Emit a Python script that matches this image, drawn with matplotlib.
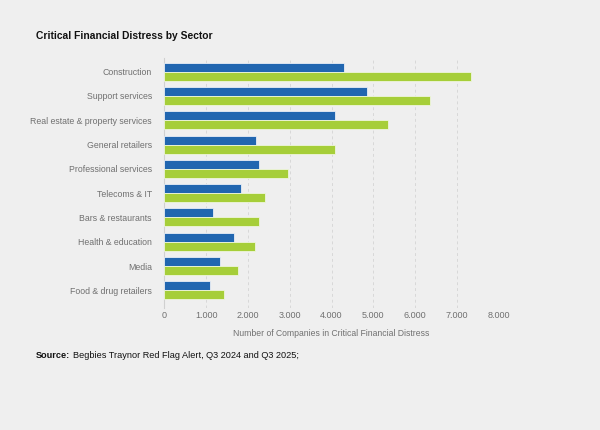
import matplotlib
matplotlib.use('Agg')
import matplotlib.pyplot as plt
import numpy as np

plt.rcParams['font.family'] = ['Liberation Sans', 'DejaVu Sans']

sectors = ['Construction', 'Support services', 'Real estate & property services',
           'General retailers', 'Professional services', 'Telecoms & IT',
           'Bars & restaurants', 'Health & education', 'Media',
           'Food & drug retailers']
q3_2024 = [4300, 4850, 4090, 2200, 2260, 1840, 1170, 1660, 1340, 1090]
q3_2025 = [7340, 6360, 5360, 4090, 2970, 2420, 2270, 2170, 1760, 1430]
xticks = [0, 1000, 2000, 3000, 4000, 5000, 6000, 7000, 8000]
xtick_labels = ['0', '1.000', '2.000', '3.000', '4.000', '5.000', '6.000', '7.000', '8.000']

BG    = '#efefef'
BLUE  = '#2166b0'
GREEN = '#a6ce39'
GREY  = '#707070'

fig = plt.figure(figsize=(6, 4.3), dpi=100, facecolor=BG)
ax = fig.add_axes([0.274, 0.284, 0.557, 0.581], facecolor=BG)

y = np.arange(len(sectors))
h = 0.37
ax.barh(y - h / 2, q3_2024, height=h, color=BLUE, edgecolor='#e8eef6', linewidth=0.6, zorder=3)
ax.barh(y + h / 2, q3_2025, height=h, color=GREEN, edgecolor='#eef5dc', linewidth=0.6, zorder=3)

ax.set_ylim(len(sectors) - 1 + 0.72, -0.56)
ax.set_xlim(0, 8000)
ax.set_yticks(y)
ax.set_yticklabels(sectors, fontsize=6.3, color=GREY)
ax.set_xticks(xticks)
ax.set_xticklabels(xtick_labels, fontsize=6.5, color=GREY)
ax.tick_params(axis='both', length=0)
ax.tick_params(axis='y', pad=9)
ax.tick_params(axis='x', pad=2)
ax.grid(axis='x', color='#d8d8d8', linestyle=(0, (3, 3)), linewidth=0.7, zorder=0)
for side in ['top', 'right', 'bottom']:
    ax.spines[side].set_visible(False)
ax.spines['left'].set_color('#d0d0d0')
ax.spines['left'].set_linewidth(0.8)
ax.set_xlabel('Number of Companies in Critical Financial Distress', fontsize=6.2,
              color=GREY, labelpad=7)

fig.text(0.06, 0.916, 'Critical Financial Distress by Sector', fontsize=7.4,
         fontweight='bold', color='#111111', va='center')
t = fig.text(0.06, 0.174, 'Source:', fontsize=6.6, fontweight='bold',
             color='#111111', va='center')
fig.canvas.draw()
bb = t.get_window_extent()
x1 = fig.transFigure.inverted().transform((bb.x1, bb.y0))[0]
fig.text(x1 + 0.004, 0.174, 'Begbies Traynor Red Flag Alert, Q3 2024 and Q3 2025;',
         fontsize=6.6, color='#111111', va='center')

fig.savefig('out.png', dpi=100, facecolor=BG)
